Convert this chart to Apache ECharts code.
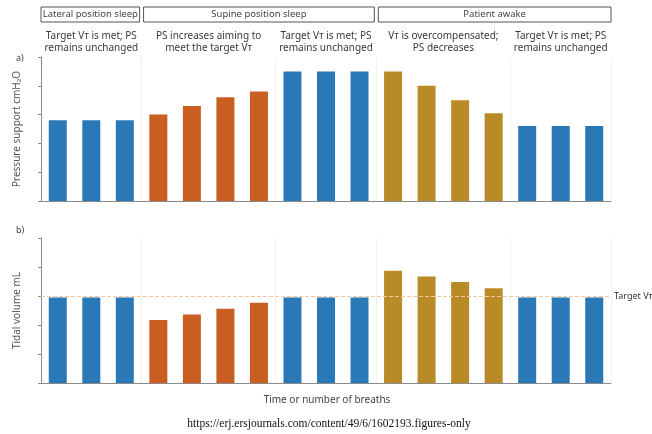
<!DOCTYPE html>
<html>
<head>
<meta charset="utf-8">
<script src="https://cdn.jsdelivr.net/npm/echarts@6/dist/echarts.min.js"></script>
<style>
html,body{margin:0;padding:0;background:#fff;}
#c{width:652px;height:434px;}
</style>
</head>
<body>
<div id="c"></div>
<script>
// ---- data ----
const breaths = ['1','2','3','4','5','6','7','8','9','10','11','12','13','14','15','16','17'];
const phase = ['met','met','met','inc','inc','inc','inc','met','met','met','dec','dec','dec','dec','met','met','met'];
const pressureSupport = [2.8, 2.8, 2.8, 3.0, 3.3, 3.6, 3.8, 4.5, 4.5, 4.5, 4.5, 4.0, 3.5, 3.05, 2.6, 2.6, 2.6];
const tidalVolume = [2.95, 2.95, 2.95, 2.17, 2.36, 2.56, 2.77, 2.95, 2.95, 2.95, 3.87, 3.67, 3.48, 3.27, 2.95, 2.95, 2.95];
const targetVolume = 3;
const headers = ['Lateral position sleep', 'Supine position sleep', 'Patient awake'];
const notes = [
  'Target V\u1d1b is met; PS\nremains unchanged',
  'PS increases aiming to\nmeet the target V\u1d1b',
  'Target V\u1d1b is met; PS\nremains unchanged',
  'V\u1d1b is overcompensated;\nPS decreases',
  'Target V\u1d1b is met; PS\nremains unchanged'
];
const separators = [3, 7, 10, 14];

const phaseColor = {met: '#2a78b6', inc: '#c85e22', dec: '#b88b27'};
const FONT = '"Noto Sans", "DejaVu Sans", sans-serif';

const chart = echarts.init(document.getElementById('c'), null, {renderer: 'canvas'});

function barData(values) {
  return values.map((v, i) => ({value: v, itemStyle: {color: phaseColor[phase[i]]}}));
}

const xCommon = {
  type: 'category',
  data: breaths,
  boundaryGap: true,
  axisLine: {lineStyle: {color: '#8a8a8a', width: 1}},
  axisTick: {show: false},
  axisLabel: {show: false},
  splitLine: {
    show: true,
    interval: (idx) => separators.indexOf(idx) >= 0,
    lineStyle: {color: '#f0f0f0', width: 1}
  }
};
const yCommon = {
  type: 'value', min: 0, max: 5, interval: 1,
  axisLine: {show: true, lineStyle: {color: '#8a8a8a', width: 1}},
  axisTick: {show: true, length: 3, lineStyle: {color: '#8a8a8a'}},
  axisLabel: {show: false},
  splitLine: {show: false},
  nameLocation: 'middle',
  nameGap: 19,
  nameTextStyle: {fontFamily: FONT, fontSize: 10, color: '#555'}
};

const L = 41, R = 611;
const band = (R - L) / breaths.length;
const colBounds = [0, 3, 7, 10, 14, 17];
const headerBounds = [[0, 3], [3, 10], [10, 17]];

const graphics = [];
headerBounds.forEach((b, i) => {
  const x0 = L + b[0] * band + (i === 0 ? 0 : 2);
  const x1 = L + b[1] * band - (i === headerBounds.length - 1 ? 0 : 2);
  graphics.push({
    type: 'rect',
    shape: {x: x0, y: 7, width: x1 - x0, height: 15},
    style: {fill: '#fff', stroke: '#555', lineWidth: 1}
  });
  graphics.push({
    type: 'text',
    x: (x0 + x1) / 2, y: 14.5,
    style: {text: headers[i], font: '9.5px ' + FONT, fill: '#444', align: 'center', verticalAlign: 'middle'}
  });
});
notes.forEach((t, i) => {
  const cx = L + (colBounds[i] + colBounds[i + 1]) / 2 * band;
  graphics.push({
    type: 'text',
    x: cx, y: 30,
    style: {text: t, font: '10px ' + FONT, fill: '#3a3a3a', align: 'center', verticalAlign: 'top', lineHeight: 12}
  });
});
graphics.push({type: 'text', x: 16, y: 54, style: {text: 'a)', font: '9px ' + FONT, fill: '#444'}});
graphics.push({type: 'text', x: 16, y: 226, style: {text: 'b)', font: '9px ' + FONT, fill: '#444'}});
graphics.push({type: 'text', x: 327, y: 400, style: {text: 'Time or number of breaths', font: '10px ' + FONT, fill: '#444', align: 'center', verticalAlign: 'middle'}});
graphics.push({type: 'text', x: 329, y: 424, style: {text: 'https://erj.ersjournals.com/content/49/6/1602193.figures-only', font: '11.5px "Liberation Serif", "DejaVu Serif", serif', fill: '#111', align: 'center', verticalAlign: 'middle'}});

chart.setOption({
  animation: false,
  backgroundColor: '#fff',
  textStyle: {fontFamily: FONT},
  grid: [
    {left: L, right: 652 - R, top: 57, height: 144},
    {left: L, right: 652 - R, top: 238, height: 145}
  ],
  xAxis: [
    Object.assign({gridIndex: 0}, xCommon),
    Object.assign({gridIndex: 1}, xCommon)
  ],
  yAxis: [
    Object.assign({gridIndex: 0, name: 'Pressure support cmH\u2082O'}, yCommon),
    Object.assign({gridIndex: 1, name: 'Tidal volume mL'}, yCommon)
  ],
  series: [
    {
      type: 'bar', xAxisIndex: 0, yAxisIndex: 0,
      barWidth: 18,
      data: barData(pressureSupport)
    },
    {
      type: 'bar', xAxisIndex: 1, yAxisIndex: 1,
      barWidth: 18,
      data: barData(tidalVolume),
      markLine: {
        silent: true,
        symbol: 'none',
        lineStyle: {type: 'dashed', color: '#f4c6a2', width: 1},
        label: {show: true, position: 'end', formatter: 'Target V\u1d1b', fontFamily: FONT, fontSize: 9, color: '#333', distance: 3},
        data: [{yAxis: targetVolume}]
      }
    }
  ],
  graphic: graphics
});
</script>
</body>
</html>
